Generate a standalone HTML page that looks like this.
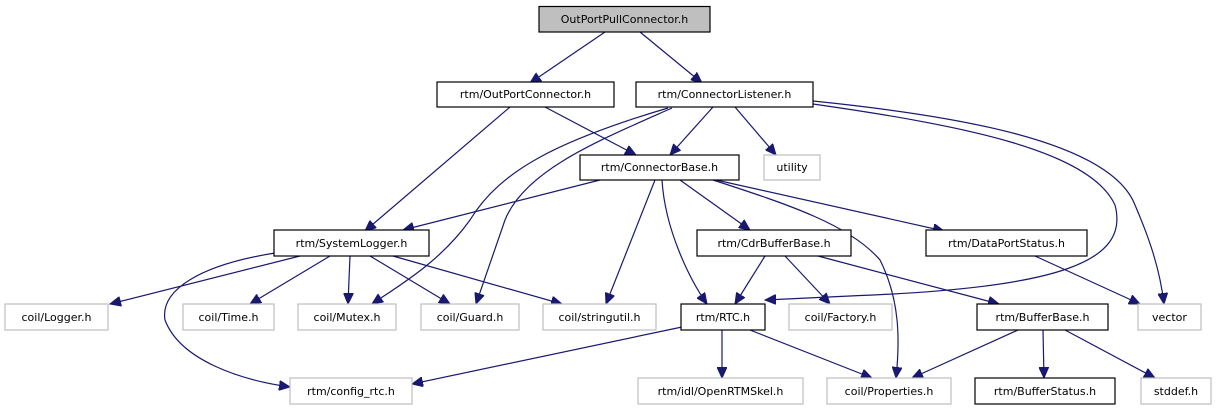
<!DOCTYPE html>
<html><head><meta charset="utf-8"><style>
html,body{margin:0;padding:0;background:#fff;}
svg{display:block;}
text{font-family:"DejaVu Sans","Liberation Sans",sans-serif;font-size:11px;fill:#000;}
.b{fill:#fff;stroke:#000;stroke-width:1.2;}
.g{fill:#fff;stroke:#bfbfbf;stroke-width:1.2;}
.e{fill:none;stroke:#191970;stroke-width:1.2;}
</style></head><body>
<svg width="1219" height="411" viewBox="0 0 1219 411" xmlns="http://www.w3.org/2000/svg">
<defs><marker id="a" markerUnits="userSpaceOnUse" markerWidth="12" markerHeight="10" refX="11" refY="5" orient="auto"><path d="M0,0 L11,5 L0,10 z" fill="#191970" stroke="#191970"/></marker></defs>
<g marker-end="url(#a)">
<path class="e" d="M605,32 L530,83"/>
<path class="e" d="M640,32 L702,83"/>
<path class="e" d="M510,107 L365,231"/>
<path class="e" d="M545,107 L636,155"/>
<path class="e" d="M713,107 L670,155"/>
<path class="e" d="M735,107 L776,155"/>
<path class="e" d="M668,108 C560,140 500,170 470,220 C440,262 400,285 372,304"/>
<path class="e" d="M672,108 C600,140 525,170 505,220 L476,304"/>
<path class="e" d="M813,101 C950,115 1110,140 1135,205 C1150,240 1160,270 1164,304"/>
<path class="e" d="M813,104 C960,125 1090,150 1115,205 C1130,262 1060,288 850,296 L765,300"/>
<path class="e" d="M600,180 L403,230"/>
<path class="e" d="M655,180 L606,304"/>
<path class="e" d="M662,180 C665,230 690,280 707,304"/>
<path class="e" d="M680,180 L750,230"/>
<path class="e" d="M713,180 C790,205 850,225 880,260 C900,300 900,340 896,378"/>
<path class="e" d="M716,180 L944,231"/>
<path class="e" d="M300,256 L110,304"/>
<path class="e" d="M275,253 C200,265 160,290 165,320 C180,360 240,380 290,387"/>
<path class="e" d="M330,256 L250,304"/>
<path class="e" d="M350,256 L348,304"/>
<path class="e" d="M370,256 L450,304"/>
<path class="e" d="M393,256 L562,304"/>
<path class="e" d="M765,256 L735,304"/>
<path class="e" d="M785,256 L830,304"/>
<path class="e" d="M818,256 L999,304"/>
<path class="e" d="M1035,256 L1140,304"/>
<path class="e" d="M682,327 L412,384"/>
<path class="e" d="M722,330 L722,378"/>
<path class="e" d="M750,330 L872,378"/>
<path class="e" d="M1018,330 L912,378"/>
<path class="e" d="M1043,330 L1044,378"/>
<path class="e" d="M1065,330 L1155,378"/>
</g>
<g text-anchor="middle">
<rect x="539" y="6.5" width="171" height="25.5" fill="#bfbfbf" stroke="#000" stroke-width="1.2"/><text x="624.5" y="23">OutPortPullConnector.h</text>
<rect class="b" x="437" y="82" width="177" height="25"/><text x="525.5" y="98">rtm/OutPortConnector.h</text>
<rect class="b" x="636" y="82" width="177" height="25"/><text x="724.5" y="98">rtm/ConnectorListener.h</text>
<rect class="b" x="580" y="155" width="159" height="25"/><text x="659.5" y="171">rtm/ConnectorBase.h</text>
<rect class="g" x="764" y="155" width="56" height="25"/><text x="792" y="171">utility</text>
<rect class="b" x="274" y="230" width="155" height="26"/><text x="351.5" y="247">rtm/SystemLogger.h</text>
<rect class="b" x="697" y="230" width="154" height="26"/><text x="774" y="247">rtm/CdrBufferBase.h</text>
<rect class="b" x="926" y="230" width="161" height="26"/><text x="1006.5" y="247">rtm/DataPortStatus.h</text>
<rect class="g" x="5" y="304" width="103" height="26"/><text x="56.5" y="321">coil/Logger.h</text>
<rect class="g" x="183" y="304" width="91" height="26"/><text x="228.5" y="321">coil/Time.h</text>
<rect class="g" x="298" y="304" width="98" height="26"/><text x="347" y="321">coil/Mutex.h</text>
<rect class="g" x="421" y="304" width="98" height="26"/><text x="470" y="321">coil/Guard.h</text>
<rect class="g" x="543" y="304" width="113" height="26"/><text x="599.5" y="321">coil/stringutil.h</text>
<rect class="b" x="681" y="304" width="84" height="26"/><text x="723" y="321">rtm/RTC.h</text>
<rect class="g" x="789" y="304" width="103" height="26"/><text x="840.5" y="321">coil/Factory.h</text>
<rect class="b" x="977" y="304" width="131" height="26"/><text x="1042.5" y="321">rtm/BufferBase.h</text>
<rect class="g" x="1138" y="304" width="63" height="26"/><text x="1169.5" y="321">vector</text>
<rect class="g" x="290" y="378" width="122" height="26"/><text x="351" y="395">rtm/config_rtc.h</text>
<rect class="g" x="638" y="378" width="165" height="26"/><text x="720.5" y="395">rtm/idl/OpenRTMSkel.h</text>
<rect class="g" x="827" y="378" width="124" height="26"/><text x="889" y="395">coil/Properties.h</text>
<rect class="b" x="975" y="378" width="140" height="26"/><text x="1045" y="395">rtm/BufferStatus.h</text>
<rect class="g" x="1141" y="378" width="70" height="26"/><text x="1176" y="395">stddef.h</text>
</g>
</svg>
</body></html>
